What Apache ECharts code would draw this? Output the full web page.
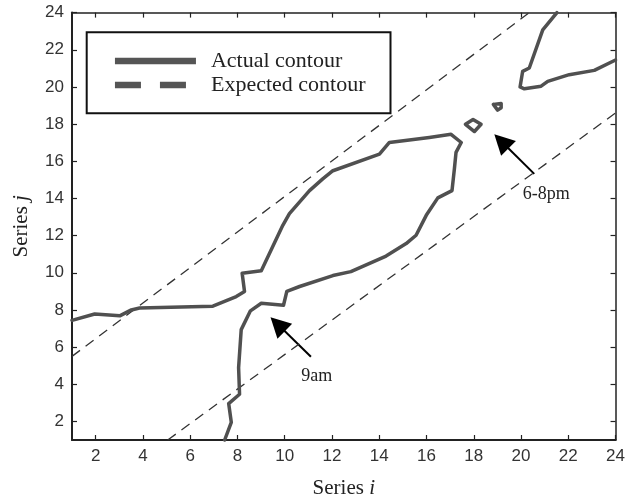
<!DOCTYPE html>
<html>
<head>
<meta charset="utf-8">
<script src="https://cdn.jsdelivr.net/npm/echarts@6/dist/echarts.min.js"></script>
<style>
  html, body { margin: 0; padding: 0; background: #fff; }
  #chart { width: 628px; height: 504px; }
</style>
</head>
<body>
<div id="chart"></div>
<script>
// Tick values shared by both axes
const tickValues = [2, 4, 6, 8, 10, 12, 14, 16, 18, 20, 22, 24];

// Actual contour: the main open curve (enters at the bottom, wraps the central lobe, leaves at the left edge)
const contourMain = [
  [7.46, 1.0], [7.74, 1.95], [7.63, 2.96], [8.09, 3.46], [8.05, 4.89], [8.16, 6.94],
  [8.55, 7.95], [9.01, 8.36], [9.95, 8.25], [10.09, 9.0], [10.63, 9.26], [12.04, 9.85],
  [12.8, 10.06], [14.29, 10.9], [14.8, 11.3], [15.14, 11.57], [15.56, 12.02], [15.99, 13.09],
  [16.48, 14.03], [17.08, 14.42], [17.18, 15.58], [17.25, 16.48], [17.47, 17.01], [17.04, 17.45],
  [16.12, 17.28], [14.43, 17.01], [14.01, 16.38], [12.04, 15.49], [11.61, 15.05], [11.05, 14.42],
  [10.2, 13.18], [9.92, 12.55], [9.01, 10.11], [8.2, 9.97], [8.3, 8.99], [7.95, 8.72],
  [6.96, 8.2], [3.86, 8.1], [3.51, 8.0], [3.02, 7.68], [1.96, 7.78], [1.0, 7.44]
];
// Actual contour: upper-right branch
const contourUpper = [
  [21.52, 24.0], [20.92, 23.07], [20.35, 21.02], [20.07, 20.84], [19.96, 20.0], [20.14, 19.9],
  [20.85, 20.04], [21.13, 20.3], [22.04, 20.66], [23.1, 20.89], [24.0, 21.45]
];
// Actual contour: two small closed islands
const contourIslandA = [[17.65, 17.99], [17.97, 18.25], [18.31, 17.99], [18.03, 17.6], [17.65, 17.99]];
const contourIslandB = [[18.83, 19.06], [19.16, 19.11], [19.16, 18.88], [19.01, 18.75], [18.83, 19.06]];

// Expected contour band edges
const expectedUpper = [[1.0, 5.5], [20.35, 24.0]];
const expectedLower = [[5.05, 1.0], [24.0, 18.6]];

// Annotation arrows: [fromX, fromY, toX, toY]
const arrows = [[11.11, 5.48, 9.40, 7.61], [20.56, 15.32, 18.87, 17.45]];
// Annotation texts: [x, y, text]
const notes = [[10.70, 4.41, '9am'], [20.07, 14.25, '6-8pm']];

const contourColor = '#505050';
const serif = '"Liberation Serif", "Times New Roman", serif';
const sans = '"Liberation Sans", Arial, Helvetica, sans-serif';

function contourSeries(data) {
  return {
    type: 'line', name: 'Actual contour', data: data, symbol: 'none',
    color: contourColor, silent: true, clip: false,
    lineStyle: { color: contourColor, width: 3.5, cap: 'round', join: 'round' }
  };
}
function expectedSeries(data) {
  return {
    type: 'line', name: 'Expected contour', data: data, symbol: 'none',
    color: '#333', silent: true,
    lineStyle: { color: '#333', width: 1.3, type: [10, 7] }
  };
}

const nameRich = {
  n: { fontFamily: serif, fontSize: 21, color: '#222' },
  i: { fontFamily: serif, fontSize: 21, color: '#222', fontStyle: 'italic' }
};

function mainAxis(position, nameText, gap) {
  return {
    type: 'value', min: 1, max: 24, position: position,
    name: nameText, nameLocation: 'middle', nameGap: gap,
    nameTextStyle: { fontFamily: serif, fontSize: 21, color: '#222', rich: nameRich },
    axisLine: { show: true, lineStyle: { color: '#222', width: 2 } },
    axisTick: { show: true, inside: true, length: 5, customValues: tickValues, lineStyle: { color: '#222', width: 1.2 } },
    axisLabel: { show: true, customValues: tickValues, margin: 8, fontFamily: sans, fontSize: 17, color: '#333' },
    splitLine: { show: false }
  };
}
function mirrorAxis(position) {
  return {
    type: 'value', min: 1, max: 24, position: position,
    axisLine: { show: true, lineStyle: { color: '#222', width: 1.5 } },
    axisTick: { show: true, inside: true, length: 5, customValues: tickValues, lineStyle: { color: '#222', width: 1.2 } },
    axisLabel: { show: false },
    splitLine: { show: false }
  };
}

const chart = echarts.init(document.getElementById('chart'), null, { renderer: 'canvas' });

chart.setOption({
  animation: false,
  backgroundColor: '#fff',
  grid: { left: 72, right: 11, top: 12.6, bottom: 61.3, containLabel: false },
  xAxis: [mainAxis('bottom', '{n|Series }{i|i}', 38), mirrorAxis('top')],
  yAxis: [mainAxis('left', '{n|Series }{i|j}', 40), mirrorAxis('right')],
  legend: {
    orient: 'vertical', left: 86.7, top: 32.3,
    padding: [17.7, 25, 17.3, 25], itemGap: 2,
    itemWidth: 81, itemHeight: 14,
    borderColor: '#111', borderWidth: 2, backgroundColor: '#fff',
    selectedMode: false,
    textStyle: { fontFamily: serif, fontSize: 22, color: '#222', padding: [0, 0, 0, 10] },
    data: [
      { name: 'Actual contour', icon: 'line',
        itemStyle: { color: '#555', borderColor: '#555', borderWidth: 6.5, borderType: 'solid' } },
      { name: 'Expected contour', icon: 'line',
        itemStyle: { color: '#555', borderColor: '#555', borderWidth: 6.5, borderType: [26, 19] } }
    ]
  },
  series: [
    expectedSeries(expectedUpper),
    expectedSeries(expectedLower),
    contourSeries(contourMain),
    contourSeries(contourUpper),
    contourSeries(contourIslandA),
    contourSeries(contourIslandB),
    {
      type: 'custom', name: 'arrows', silent: true, clip: false,
      data: arrows,
      encode: { x: [0, 2], y: [1, 3] },
      renderItem: function (params, api) {
        const p0 = api.coord([api.value(0), api.value(1)]);
        const p1 = api.coord([api.value(2), api.value(3)]);
        const dx = p1[0] - p0[0], dy = p1[1] - p0[1];
        const len = Math.sqrt(dx * dx + dy * dy);
        const ux = dx / len, uy = dy / len;
        const headLen = 20, headHalf = 10.5;
        const bx = p1[0] - ux * headLen, by = p1[1] - uy * headLen;
        return {
          type: 'group',
          children: [
            { type: 'line', shape: { x1: p0[0], y1: p0[1], x2: bx + ux * 2, y2: by + uy * 2 },
              style: { stroke: '#000', lineWidth: 2 } },
            { type: 'polygon',
              shape: { points: [[p1[0], p1[1]], [bx - uy * headHalf, by + ux * headHalf], [bx + uy * headHalf, by - ux * headHalf]] },
              style: { fill: '#000' } }
          ]
        };
      }
    },
    {
      type: 'custom', name: 'notes', silent: true, clip: false,
      data: notes.map(n => [n[0], n[1]]),
      renderItem: function (params, api) {
        const p = api.coord([api.value(0), api.value(1)]);
        return {
          type: 'text',
          x: p[0], y: p[1],
          style: {
            text: notes[params.dataIndex][2],
            fontFamily: serif, fontSize: 18, fill: '#222',
            align: 'left', verticalAlign: 'middle'
          }
        };
      }
    }
  ]
});
</script>
</body>
</html>
